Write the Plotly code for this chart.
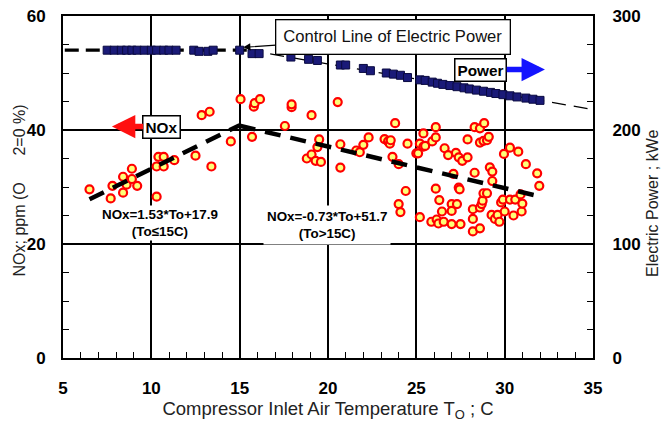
import plotly.graph_objects as go

# ---------------- data ----------------
power_temp = [7.5, 7.9, 8.3, 8.6, 8.9, 9.2, 9.6, 10.0, 10.3, 10.7, 11.0, 11.4, 12.4, 12.7, 13.2, 13.5,
              15.0, 15.7, 16.1, 17.9, 18.9, 19.4, 20.7, 21.0, 22.0, 22.4, 23.3, 23.7, 24.1, 24.5,
              25.2, 25.5, 25.9, 26.2, 26.5, 26.9, 27.3, 27.7, 28.0, 28.4, 28.8, 29.2, 29.5, 29.9,
              30.3, 30.7, 31.2, 31.6, 32.0]
power_kwe = [270, 270, 270, 270, 270, 270, 270, 270, 270, 270, 270, 270, 270, 269, 269, 270,
             270, 267, 267, 264, 262, 261, 257, 257, 254, 252, 250, 249, 248, 246,
             244, 243.5, 242, 241, 240, 239, 238, 237, 236, 235, 234, 233, 232, 231,
             230, 229, 228, 227, 226]

control_temp_flat = [5.1, 15.5]
control_kwe_flat = [270, 270]
control_temp_slope = [15.5, 35.0]
control_kwe_slope = [270, 218]

nox_temp = [6.5, 7.7, 7.8, 8.4, 8.4, 8.6, 8.9, 8.9, 9.2, 10.3, 10.3, 10.4, 10.7, 10.7, 11.3, 12.5,
            12.85, 13.3, 13.4, 14.5, 15.05, 15.7, 15.8, 15.85, 16.15, 17.56, 17.94, 17.94, 18.8,
            19.07, 19.07, 19.3, 19.4, 19.5, 19.6, 20.55, 20.7, 20.7, 21.6, 21.8, 22.0, 22.3,
            23.2, 23.4, 23.5, 23.55, 23.65, 23.8, 24.0, 24.0, 24.1, 24.4, 24.5,
            25.0, 25.1, 25.2, 25.2, 25.4, 25.4, 25.5, 25.85, 25.9, 26.1, 26.1, 26.1, 26.15, 26.25,
            26.3, 26.45, 26.55, 26.6, 26.8, 27.0, 27.5, 27.0, 27.0, 27.1, 27.24, 27.3, 27.4, 27.4,
            27.45, 27.6, 27.9, 27.9, 28.2, 28.2, 28.2, 28.3, 28.3, 28.6, 28.6, 28.6, 28.6, 28.7,
            28.75, 28.8, 28.8, 28.84, 29.0, 29.0, 29.1, 29.16, 29.26, 29.3, 29.3, 29.45, 29.6,
            29.7, 29.8, 29.9, 29.96, 30.0, 30.3, 30.3, 30.5, 30.6, 30.77, 30.9, 30.96, 31.0,
            31.2, 31.84, 31.96]
nox_ppm = [29.6, 28.0, 30.2, 31.8, 29.0, 30.4, 33.2, 31.4, 30.2, 33.6, 28.3, 35.3, 35.3, 33.6, 34.7, 35.5,
           42.6, 43.2, 33.6, 38.0, 45.4, 38.8, 44.1, 44.7, 45.4, 40.7, 44.0, 44.5, 35.0,
           42.6, 35.7, 34.6, 37.0, 38.35, 34.4, 44.9, 37.5, 33.4, 36.4, 36.1, 37.4, 38.7,
           38.4, 38.0, 37.6, 38.2, 35.3, 41.2, 34.0, 27.0, 25.6, 29.3, 37.6,
           35.9, 35.9, 37.6, 24.7, 39.4, 37.1, 37.2, 23.9, 38.0, 40.5, 38.7, 29.7, 24.3, 23.6,
           27.7, 25.7, 23.9, 36.8, 35.6, 23.5, 23.5, 27.0, 25.8, 32.3, 36.0, 27.0, 35.2, 29.9,
           29.6, 34.6, 35.2, 38.35, 26.1, 24.4, 22.2, 40.5, 32.5, 40.3, 37.8, 26.4, 22.75, 27.0,
           27.6, 38.1, 28.9, 41.2, 38.2, 28.9, 38.8, 33.45, 25.1, 32.7, 31.05, 24.4, 25.1,
           23.9, 27.3, 27.8, 35.8, 25.7, 36.9, 27.8, 25.0, 27.8, 36.2, 28.7, 25.7, 27.1,
           34.0, 32.4, 30.2]

# regression fits shown on the chart
fit1_slope, fit1_icpt, fit1_range = 1.53, 17.9, [6.5, 15.0]
fit2_slope, fit2_icpt, fit2_range = -0.73, 51.7, [15.0, 32.0]

x_ticks = [5, 10, 15, 20, 25, 30, 35]
y_left_ticks = [0, 20, 40, 60]
y_right_ticks = [0, 100, 200, 300]

FONT = "Liberation Sans, Arial, sans-serif"

fig = go.Figure()

# NOx scatter
fig.add_trace(go.Scatter(
    x=nox_temp, y=nox_ppm, mode="markers",
    marker=dict(symbol="circle", size=8, color="#ffff78",
                line=dict(color="#ff0000", width=2.2)),
    showlegend=False, yaxis="y"))

# regression lines
fig.add_trace(go.Scatter(
    x=fit1_range, y=[fit1_slope * t + fit1_icpt for t in fit1_range], mode="lines",
    line=dict(color="black", width=4.5, dash="16px,10px"), showlegend=False, yaxis="y"))
fig.add_trace(go.Scatter(
    x=fit2_range, y=[fit2_slope * t + fit2_icpt for t in fit2_range], mode="lines",
    line=dict(color="black", width=4.5, dash="16px,10px"), showlegend=False, yaxis="y"))

# control line of electric power
fig.add_trace(go.Scatter(
    x=control_temp_flat, y=control_kwe_flat, mode="lines",
    line=dict(color="black", width=3.2, dash="14px,7px"), showlegend=False, yaxis="y2"))
fig.add_trace(go.Scatter(
    x=control_temp_slope, y=control_kwe_slope, mode="lines",
    line=dict(color="black", width=1.3, dash="14px,8px"), showlegend=False, yaxis="y2"))

# power points
fig.add_trace(go.Scatter(
    x=power_temp, y=power_kwe, mode="markers",
    marker=dict(symbol="square", size=8, color="#1a1a78",
                line=dict(color="#0a0a40", width=1)),
    showlegend=False, yaxis="y2"))

tickfont = dict(family=FONT, size=17, color="black", weight="bold")

fig.update_layout(
    width=668, height=425,
    margin=dict(l=63, r=75, t=16, b=67, autoexpand=False),
    paper_bgcolor="white", plot_bgcolor="white",
    font=dict(family=FONT, color="black"),
    xaxis=dict(
        range=[5, 35], tickvals=x_ticks, ticktext=[str(v) for v in x_ticks],
        showgrid=True, gridcolor="black", gridwidth=1.5,
        showline=True, linecolor="black", linewidth=2, mirror=True,
        ticks="inside", ticklen=7, tickcolor="black", tickwidth=1.5,
        minor=dict(ticks="inside", dtick=1, ticklen=6, tickcolor="black", tickwidth=1.2, showgrid=False),
        tickfont=tickfont, ticklabelstandoff=14, zeroline=False,
        title=dict(text="Compressor Inlet Air Temperature T<sub>O</sub> ; C",
                   font=dict(family=FONT, size=18.5, color="#222"), standoff=5),
    ),
    yaxis=dict(
        range=[0, 60], tickvals=y_left_ticks, ticktext=[str(v) for v in y_left_ticks],
        showgrid=True, gridcolor="black", gridwidth=1.5,
        showline=True, linecolor="black", linewidth=2,
        ticks="inside", ticklen=7, tickcolor="black", tickwidth=1.5,
        minor=dict(ticks="inside", dtick=5, ticklen=6, tickcolor="black", tickwidth=1.2, showgrid=False),
        tickfont=tickfont, ticklabelstandoff=12, zeroline=False,
    ),
    yaxis2=dict(
        range=[0, 300], tickvals=y_right_ticks, ticktext=[str(v) for v in y_right_ticks],
        overlaying="y", side="right", showgrid=False,
        showline=True, linecolor="black", linewidth=2,
        ticks="inside", ticklen=7, tickcolor="black", tickwidth=1.5,
        minor=dict(ticks="inside", dtick=25, ticklen=6, tickcolor="black", tickwidth=1.2, showgrid=False),
        tickfont=tickfont, ticklabelstandoff=14, zeroline=False,
    ),
)

NB = "\u00a0"
annotations = [
    # axis titles
    dict(x=-0.083, y=0.49, xref="paper", yref="paper", textangle=-90, showarrow=False,
         xanchor="center", yanchor="middle",
         text="NOx; ppm (O" + NB * 6 + "2=0 %)", font=dict(family=FONT, size=16, color="#222")),
    dict(x=1.111, y=0.453, xref="paper", yref="paper", textangle=-90, showarrow=False,
         xanchor="center", yanchor="middle",
         text="Electric Power ; kWe", font=dict(family=FONT, size=16, color="#222")),
    # Control line label with arrow
    dict(x=15.2, y=54.5, xref="x", yref="y", text="Control Line of Electric Power",
         showarrow=True, ax=150, ay=-10, axref="pixel", ayref="pixel",
         arrowhead=2, arrowsize=1.2, arrowwidth=1.2, arrowcolor="black",
         font=dict(family=FONT, size=16.6, color="#111"),
         bgcolor="white", bordercolor="black", borderwidth=1.3, borderpad=7),
    # Power label with blue arrow
    dict(x=32.28, y=50.6, xref="x", yref="y", text="<b>Power</b>", showarrow=True,
         ax=-64, ay=0, arrowhead=2, arrowsize=0.85, arrowwidth=5.5, arrowcolor="#1414ff",
         font=dict(family=FONT, size=15.3, color="black"),
         bgcolor="white", bordercolor="black", borderwidth=1.5, borderpad=2),
    # NOx label with red arrow
    dict(x=7.77, y=40.6, xref="x", yref="y", text="<b>NOx</b>", showarrow=True,
         ax=50, ay=0, arrowhead=2, arrowsize=0.85, arrowwidth=5.5, arrowcolor="#ff1010",
         font=dict(family=FONT, size=15.3, color="black"),
         bgcolor="white", bordercolor="black", borderwidth=1.5, borderpad=2),
    # equations
    dict(x=10.49, y=23.7, xref="x", yref="y",
         text="<b>NOx=1.53*To+17.9</b><br><b>(To\u226415C)</b>", showarrow=False,
         font=dict(family=FONT, size=13.4, color="black"), bgcolor="white", borderpad=1),
    dict(x=19.94, y=23.3, xref="x", yref="y",
         text="<b>NOx=-0.73*To+51.7</b><br><b>(To>15C)</b>", showarrow=False,
         font=dict(family=FONT, size=13.4, color="black"), bgcolor="white", borderpad=3),
]
fig.update_layout(annotations=annotations)

fig.write_html("out.html")
